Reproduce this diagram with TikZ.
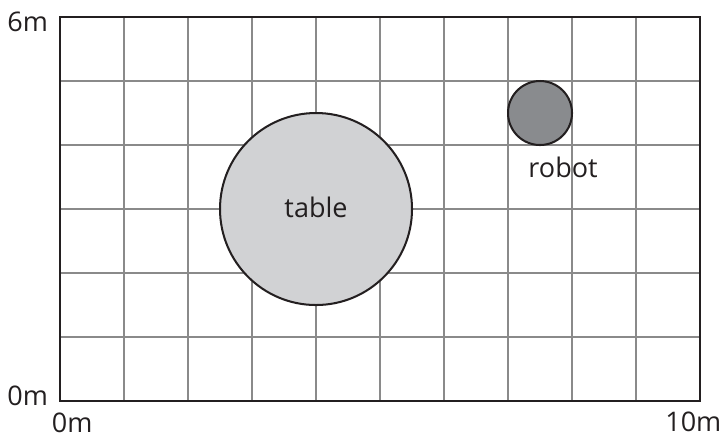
\documentclass[tikz,border=0pt]{standalone}
\usepackage{fontspec}
\setmainfont{Open Sans}
\usepackage{tikz}
\usepackage{xcolor}
\usetikzlibrary{shapes, positioning}

\definecolor{inkgray}{HTML}{231F20}
\definecolor{linegray}{HTML}{8A8A8A}
\definecolor{tablegray}{HTML}{D1D2D4}
\definecolor{robotgray}{HTML}{898B8E}

\tikzset{
    tag/.style={text=inkgray, font=\fontsize{12}{14}\selectfont, inner sep=0pt},
    obstacle/.style={circle, draw=inkgray, line width=0.9pt, inner sep=0pt}
}

\begin{document}
\begin{tikzpicture}
        \useasboundingbox (-0.9375, -0.547) rectangle (10.359, 6.266);

        \draw[linegray, line width=0.5pt] (0, 0) grid (10, 6);
        \draw[inkgray, line width=0.9pt] (0, 0) rectangle (10, 6);

        \node[obstacle, fill=tablegray, minimum size=3cm] (table) at (4, 3) {};
        \node[tag, anchor=base] (tablename) at (4, 2.87) {table};
        \node[obstacle, fill=robotgray, minimum size=1cm] (robot) at (7.5, 4.5) {};
        \node[tag, anchor=base] (robotname) at (7.86, 3.5) {robot};

        \node[tag, anchor=base east] (ytop) at (-0.18, 5.77) {6m};
        \node[tag, anchor=base east] (ybottom) at (-0.18, -0.07) {0m};
        \node[tag, anchor=base] (xleft) at (0.19, -0.49) {0m};
        \node[tag, anchor=base east] (xright) at (10.34, -0.47) {10m};
    \end{tikzpicture}
\end{document}
